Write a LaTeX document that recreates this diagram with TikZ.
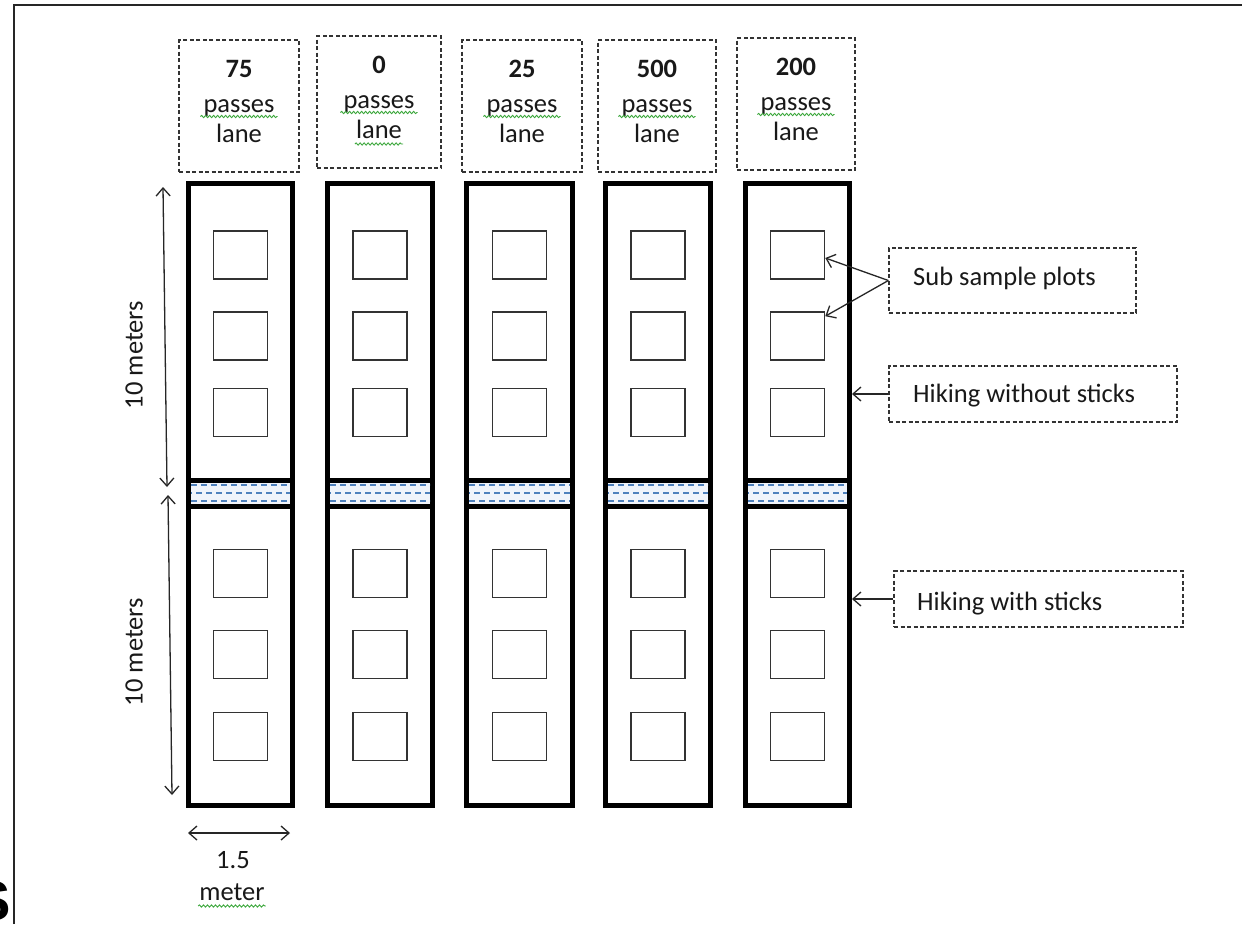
\documentclass[tikz,border=0pt]{standalone}
\usepackage{fontspec}
\setmainfont{Carlito}
\newfontfamily\bigsans{Liberation Sans}
\usetikzlibrary{arrows.meta,decorations.pathmorphing,calc}
\definecolor{bandfill}{HTML}{F0F4FB}
\definecolor{wetblue}{HTML}{4F81BD}
\definecolor{spellgreen}{HTML}{3DA83D}
\begin{document}
\begin{tikzpicture}[x=1pt,y=-1pt,
  lane/.style={draw=black, line width=5pt},
  band/.style={draw=black, line width=5pt, fill=bandfill},
  wet/.style={draw=wetblue, line width=1.8pt, dash pattern=on 6pt off 4pt},
  plot/.style={draw=black!80, line width=1.6pt},
  lblbox/.style={draw=black!80, line width=1.3pt, dash pattern=on 4pt off 2.5pt},
  txt/.style={font=\fontsize{26.5}{30}\selectfont, inner sep=0pt, anchor=base, text=black!90},
  tip/.style={draw=black!85, line width=1.3pt},
  dimline/.style={tip, {Straight Barb[length=8pt,width=14pt]}-{Straight Barb[length=8pt,width=14pt]}},
  pointer/.style={tip, -{Straight Barb[length=8pt,width=14pt]}},
  wavy/.style={draw=spellgreen, line width=0.9pt, decorate, decoration={snake, segment length=4pt, amplitude=1.1pt}},
  frameline/.style={draw=black!85, line width=2pt}
]
\useasboundingbox (0,0) rectangle (1242,924);
\clip (0,0) rectangle (1242,924);
\fill[white] (0,0) rectangle (1242,924);

% frame
\coordinate (fTL) at (14,5);
\coordinate (fTR) at (1242,5);
\coordinate (fBL) at (14,924);
\draw[frameline] (fBL) -- (fTL) -- (fTR);

% cut-off letter at the bottom left
\node[inner sep=0pt, anchor=base east, font=\bigsans\bfseries\fontsize{56}{60}\selectfont] (cutS) at (11,920) {S};

% lanes
\foreach \i/\c/\w in {1/240.5/104, 2/380/105, 3/519.5/106, 4/658/105, 5/797.5/104} {
  \node[lane, minimum width=\w pt, minimum height=622pt] (L\i) at (\c,494) {};
  \node[band, minimum width=\w pt, minimum height=26pt] (D\i) at (\c,493) {};
  \draw[wet] ([xshift=5pt,yshift=8pt]D\i.west) -- ([xshift=-5pt,yshift=8pt]D\i.east);
  \draw[wet, dash phase=5pt] ([xshift=5pt]D\i.west) -- ([xshift=-5pt]D\i.east);
  \draw[wet] ([xshift=5pt,yshift=-8pt]D\i.west) -- ([xshift=-5pt,yshift=-8pt]D\i.east);
  \foreach \j/\y in {1/255, 2/336, 3/412.5, 4/573.5, 5/654.5, 6/736.5} {
    \node[plot, minimum width=54pt, minimum height=48pt] (q\i\j) at (\c,\y) {};
  }
}

% lane labels
\foreach \i/\c/\tp/\w/\n in {1/239/40/120/75, 2/379/36/124/0, 3/522/40/120/25, 4/657/40/118/500, 5/796/38/118/200} {
  \node[lblbox, minimum width=\w pt, minimum height=132pt] (B\i) at (\c,\tp+66) {};
  \node[txt, font=\fontsize{26.5}{30}\selectfont\bfseries] (N\i) at (\c,\tp+37) {\n};
  \node[txt] (P\i) at (\c,\tp+72) {passes};
  \node[txt] (A\i) at (\c,\tp+102) {lane};
  \draw[wavy] ([xshift=-3pt,yshift=-4.5pt]P\i.base west) -- ([xshift=3pt,yshift=-4.5pt]P\i.base east);
}
\draw[wavy] ([xshift=-1pt,yshift=-6pt]A2.base west) -- ([xshift=1pt,yshift=-6pt]A2.base east);

% dimension arrows
\coordinate (u1) at (163,187);
\coordinate (u2) at (167,487);
\coordinate (v1) at (168,495);
\coordinate (v2) at (172,795);
\coordinate (h1) at (188,833);
\coordinate (h2) at (290,833);
\draw[dimline] (u1) -- (u2);
\draw[dimline] (v1) -- (v2);
\draw[dimline] (h1) -- (h2);
\node[txt, anchor=center, rotate=90] (m1) at (134,355) {10 meters};
\node[txt, anchor=center, rotate=90] (m2) at (134,652) {10 meters};
\node[txt] (w1) at (233,868) {1.5};
\node[txt] (w2) at (232,900) {meter};
\draw[wavy] ([xshift=-1pt,yshift=-6pt]w2.base west) -- ([xshift=1pt,yshift=-6pt]w2.base east);

% right-hand legend boxes
\node[lblbox, minimum width=247pt, minimum height=65pt] (SB) at (1012.5,280.5) {};
\node[txt, anchor=base west] (SBt) at (913,285) {Sub sample plots};
\node[lblbox, minimum width=288pt, minimum height=56pt] (HW) at (1033,394) {};
\node[txt, anchor=base west] (HWt) at (913,402) {Hiking without sticks};
\node[lblbox, minimum width=289pt, minimum height=56pt] (HS) at (1038.5,599) {};
\node[txt, anchor=base west] (HSt) at (917,610) {Hiking with sticks};

\draw[pointer] (SB.west) -- ($(q51.east)+(0,3)$);
\draw[pointer] (SB.west) -- ($(q52.north east)+(0,5)$);
\draw[pointer] (HW.west) -- (L5.east |- HW.west);
\draw[pointer] (HS.west) -- (L5.east |- HS.west);
\end{tikzpicture}
\end{document}
